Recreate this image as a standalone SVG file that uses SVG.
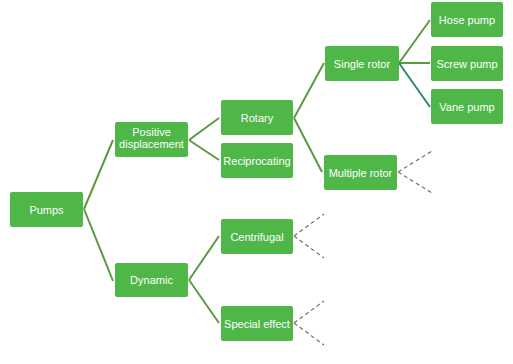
<svg xmlns="http://www.w3.org/2000/svg" width="513" height="364" viewBox="0 0 513 364">
<style>
.box{fill:#4eb748;}
.t{font-family:"Liberation Sans",Arial,sans-serif;font-size:11px;fill:#ffffff;text-anchor:middle;}
.ln{stroke:#5c9a42;stroke-width:2;fill:none;}
.dl{stroke:#7a7a7a;stroke-width:1.3;stroke-dasharray:4,3;fill:none;}
</style>
<rect width="513" height="364" fill="#ffffff"/>
<g id="connectors">
<path class="ln" d="M84,209 L113,140 M84,209 L113,281"/>
<path class="ln" d="M189,140 L219,118 M189,140 L219,160"/>
<path class="ln" d="M189,280 L219,236 M189,280 L219,323"/>
<path class="ln" d="M294,118 L324,63 M294,118 L322,172"/>
<path class="ln" d="M399,63 L430,20 M399,63 L430,63"/>
<path d="M399,63 L430,107" stroke="#2f8a6a" stroke-width="2" fill="none"/>
<path class="dl" d="M398,172 L432,151 M398,172 L432,193"/>
<path class="dl" d="M294,236 L324,214 M294,236 L324,258"/>
<path class="dl" d="M294,323 L324,301 M294,323 L324,345"/>
</g>
<g id="pumps"><rect class="box" x="10" y="192" width="73" height="35" rx="2"/><text class="t" x="46.5" y="213.5">Pumps</text></g>
<g id="positive"><rect class="box" x="115" y="122" width="73" height="35" rx="2"/><text class="t" x="151.5" y="136">Positive</text><text class="t" x="151.5" y="148">displacement</text></g>
<g id="dynamic"><rect class="box" x="115" y="263" width="73" height="34" rx="2"/><text class="t" x="151.5" y="284">Dynamic</text></g>
<g id="rotary"><rect class="box" x="221" y="100" width="72" height="35" rx="2"/><text class="t" x="257" y="121.5">Rotary</text></g>
<g id="reciprocating"><rect class="box" x="221" y="143" width="72" height="35" rx="2"/><text class="t" x="257" y="164.5">Reciprocating</text></g>
<g id="centrifugal"><rect class="box" x="221" y="219" width="72" height="35" rx="2"/><text class="t" x="257" y="240.5">Centrifugal</text></g>
<g id="special"><rect class="box" x="221" y="306" width="72" height="35" rx="2"/><text class="t" x="257" y="327.5">Special effect</text></g>
<g id="single"><rect class="box" x="325" y="46" width="74" height="35" rx="2"/><text class="t" x="362" y="67.5">Single rotor</text></g>
<g id="multiple"><rect class="box" x="324" y="155" width="73" height="35" rx="2"/><text class="t" x="360.5" y="176.5">Multiple rotor</text></g>
<g id="hose"><rect class="box" x="431" y="2" width="72" height="35" rx="2"/><text class="t" x="467" y="23.5">Hose pump</text></g>
<g id="screw"><rect class="box" x="431" y="46" width="72" height="35" rx="2"/><text class="t" x="467" y="67.5">Screw pump</text></g>
<g id="vane"><rect class="box" x="431" y="89" width="72" height="35" rx="2"/><text class="t" x="467" y="110.5">Vane pump</text></g>
</svg>
